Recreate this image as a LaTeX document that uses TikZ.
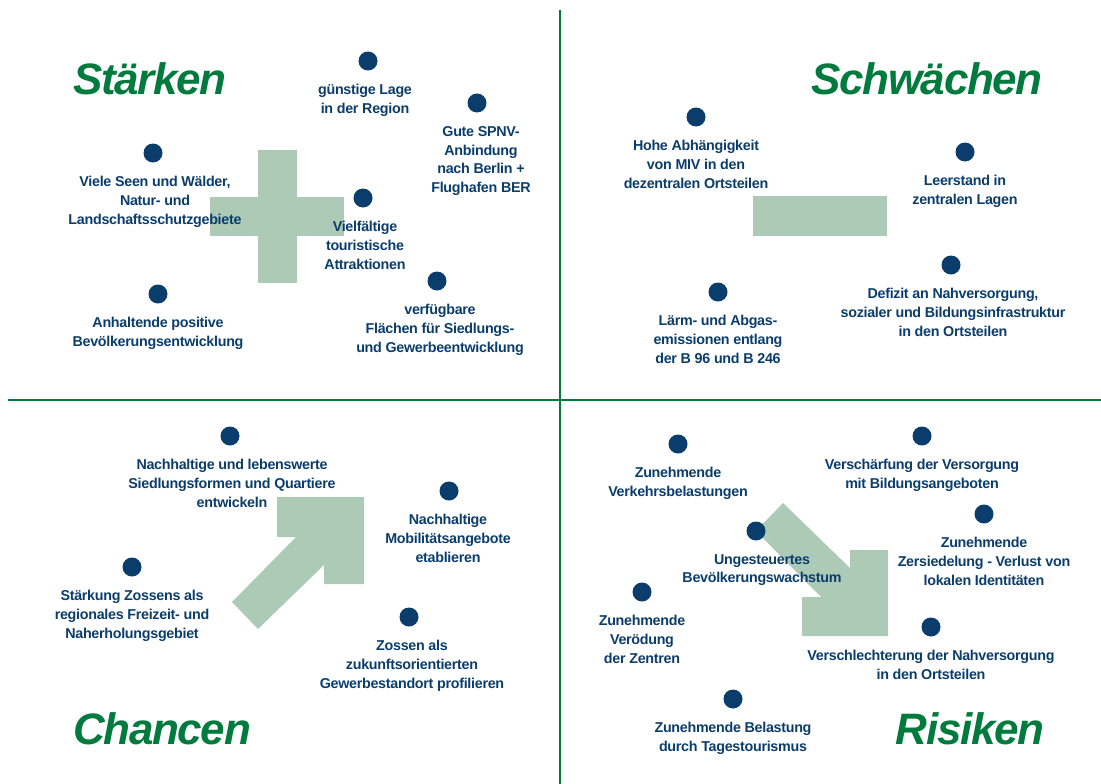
\documentclass[tikz,border=0pt]{standalone}
\usepackage{fontspec}
\setmainfont{Liberation Sans}
\newfontfamily\titlefont[LetterSpace=-3]{Liberation Sans}
\newfontfamily\itemfont[LetterSpace=-2]{Liberation Sans}
\usetikzlibrary{positioning}

\definecolor{swotgreen}{HTML}{007A3D}
\definecolor{swotnavy}{HTML}{0B3D6C}
\definecolor{swotshape}{HTML}{ACCAB5}

\tikzset{
	swotdot/.style={circle, fill=swotnavy, inner sep=0pt, minimum size=19pt},
	item/.style={text=swotnavy, align=center, inner sep=0pt,
		font=\itemfont\bfseries\fontsize{14.3}{18.7}\selectfont},
	heading/.style={text=swotgreen, inner sep=0pt, anchor=base,
		font=\titlefont\bfseries\itshape\fontsize{44}{48}\selectfont},
	symbol/.style={fill=swotshape}
}

\begin{document}
\begin{tikzpicture}[x=1pt, y=-1pt, node distance=13.5pt]
\useasboundingbox (0,0) rectangle (1101,784);

% Quadrant lines
\draw [swotgreen, line width=2pt] (560,10) -- (560,784);
\draw [swotgreen, line width=2pt] (8,400) -- (1101,400);

% Symbols
\fill [symbol] (258,150) rectangle (297,283);
\fill [symbol] (210,197) rectangle (344,236);
\fill [symbol] (753,196) rectangle (887,236);
\fill [symbol] (277,497) -- (364,497) -- (364,584) -- (324,584) -- (324,565)
	-- (258,629) -- (232,602) -- (296,537) -- (277,537) -- cycle;
\fill [symbol] (783,503) -- (850,568) -- (850,550) -- (888,550) -- (888,636)
	-- (802,636) -- (802,597) -- (821,597) -- (756,531) -- cycle;

% Headings
\node [heading] (staerken) at (150,95) {Stärken};
\node [heading] (schwaechen) at (927,95) {Schwächen};
\node [heading] (chancen) at (162,744) {Chancen};
\node [heading] (risiken) at (970,744) {Risiken};

% Staerken
\node [swotdot] (lage) at (368,61) {};
\node [item, below=of lage, xshift=-3pt] (lagetext) {günstige Lage\\in der Region};
\node [swotdot] (spnv) at (477,103) {};
\node [item, below=of spnv, xshift=4pt] (spnvtext) {Gute SPNV-\\Anbindung\\nach Berlin +\\Flughafen BER};
\node [swotdot] (seen) at (153,153) {};
\node [item, below=of seen, xshift=2pt] (seentext) {Viele Seen und Wälder,\\Natur- und\\Landschaftsschutzgebiete};
\node [swotdot] (attrakt) at (363,198) {};
\node [item, below=of attrakt, xshift=2pt] (attrakttext) {Vielfältige\\touristische\\Attraktionen};
\node [swotdot] (bevoelk) at (158,294) {};
\node [item, below=of bevoelk] (bevoelktext) {Anhaltende positive\\Bevölkerungsentwicklung};
\node [swotdot] (flaechen) at (437,281) {};
\node [item, below=of flaechen, xshift=3pt] (flaechentext) {verfügbare\\Flächen für Siedlungs-\\und Gewerbeentwicklung};

% Schwaechen
\node [swotdot] (miv) at (696,117) {};
\node [item, below=of miv] (mivtext) {Hohe Abhängigkeit\\von MIV in den\\dezentralen Ortsteilen};
\node [swotdot] (leer) at (965,152) {};
\node [item, below=of leer] (leertext) {Leerstand in\\zentralen Lagen};
\node [swotdot] (laerm) at (718,292) {};
\node [item, below=of laerm] (laermtext) {Lärm- und Abgas-\\emissionen entlang\\der B 96 und B 246};
\node [swotdot] (defizit) at (951,265) {};
\node [item, below=of defizit, xshift=2pt] (defizittext) {Defizit an Nahversorgung,\\sozialer und Bildungsinfrastruktur\\in den Ortsteilen};

% Chancen
\node [swotdot] (quartier) at (230,436) {};
\node [item, below=of quartier, xshift=2pt] (quartiertext) {Nachhaltige und lebenswerte\\Siedlungsformen und Quartiere\\entwickeln};
\node [swotdot] (mobil) at (449,491) {};
\node [item, below=of mobil, xshift=-1pt] (mobiltext) {Nachhaltige\\Mobilitätsangebote\\etablieren};
\node [swotdot] (freizeit) at (132,567) {};
\node [item, below=of freizeit] (freizeittext) {Stärkung Zossens als\\regionales Freizeit- und\\Naherholungsgebiet};
\node [swotdot] (gewerbe) at (409,617) {};
\node [item, below=of gewerbe, xshift=3pt] (gewerbetext) {Zossen als\\zukunftsorientierten\\Gewerbestandort profilieren};

% Risiken
\node [swotdot] (verkehr) at (678,444) {};
\node [item, below=of verkehr] (verkehrtext) {Zunehmende\\Verkehrsbelastungen};
\node [swotdot] (bildung) at (922,436) {};
\node [item, below=of bildung] (bildungtext) {Verschärfung der Versorgung\\mit Bildungsangeboten};
\node [swotdot] (wachstum) at (756,531) {};
\node [item, below=of wachstum, xshift=6pt] (wachstumtext) {Ungesteuertes\\Bevölkerungswachstum};
\node [swotdot] (zersied) at (984,514) {};
\node [item, below=of zersied] (zersiedtext) {Zunehmende\\Zersiedelung - Verlust von\\lokalen Identitäten};
\node [swotdot] (zentren) at (642,592) {};
\node [item, below=of zentren] (zentrentext) {Zunehmende\\Verödung\\der Zentren};
\node [swotdot] (nahvers) at (931,627) {};
\node [item, below=of nahvers] (nahverstext) {Verschlechterung der Nahversorgung\\in den Ortsteilen};
\node [swotdot] (tages) at (733,699) {};
\node [item, below=of tages] (tagestext) {Zunehmende Belastung\\durch Tagestourismus};

\end{tikzpicture}
\end{document}
